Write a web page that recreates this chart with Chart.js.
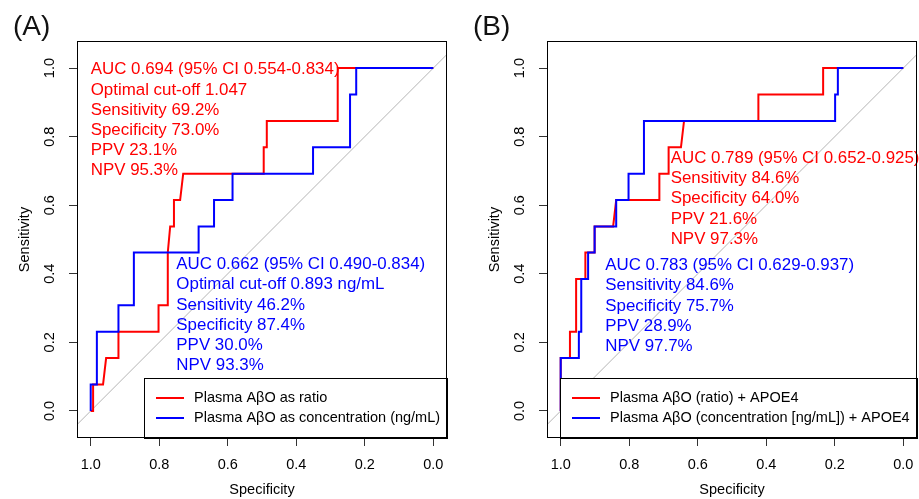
<!DOCTYPE html>
<html lang="en">
<head>
  <meta charset="UTF-8" />
  <title>ROC curves</title>
  <script src="https://cdn.jsdelivr.net/npm/chart.js@4.4.1/dist/chart.umd.min.js"></script>
  <style>
    body { margin: 0; background: #fff; overflow: hidden; }
    #wrap { position: relative; width: 919px; height: 499px; }
    canvas { position: absolute; top: 0; }
    #rocA { left: 0; }
    #rocB { left: 470px; }
  </style>
</head>
<body>
  <div id="wrap">
    <canvas id="rocA" width="460" height="499"></canvas>
    <canvas id="rocB" width="449" height="499"></canvas>
  </div>

  <script>
    // axis ticks (specificity axis runs 1 -> 0)
    const xTicks = [0.0, 0.2, 0.4, 0.6, 0.8, 1.0];
    const yTicks = [0.0, 0.2, 0.4, 0.6, 0.8, 1.0];

    // reference diagonal
    const diagSpec = [1.04, -0.04];
    const diagSens = [-0.04, 1.04];

    // (A) plasma AβO as ratio
    const ratioSpec = [1.0, 0.993, 0.993, 0.964, 0.955, 0.919, 0.919, 0.802, 0.802, 0.775, 0.775, 0.768, 0.757, 0.757, 0.739, 0.730, 0.495, 0.495, 0.486, 0.486, 0.279, 0.279, 0.0];
    const ratioSens = [0.0, 0.0, 0.077, 0.077, 0.154, 0.154, 0.231, 0.231, 0.308, 0.308, 0.462, 0.538, 0.538, 0.615, 0.615, 0.692, 0.692, 0.769, 0.769, 0.846, 0.846, 1.0, 1.0];

    // (A) plasma AβO as concentration
    const concSpec = [1.0, 1.0, 0.982, 0.982, 0.919, 0.919, 0.874, 0.874, 0.685, 0.685, 0.640, 0.640, 0.586, 0.586, 0.351, 0.351, 0.243, 0.243, 0.225, 0.225, 0.0];
    const concSens = [0.0, 0.077, 0.077, 0.231, 0.231, 0.308, 0.308, 0.462, 0.462, 0.538, 0.538, 0.615, 0.615, 0.692, 0.692, 0.769, 0.769, 0.923, 0.923, 1.0, 1.0];

    // (B) ratio + APOE4
    const ratioApoeSpec = [1.0, 1.0, 0.973, 0.973, 0.955, 0.955, 0.928, 0.928, 0.901, 0.901, 0.847, 0.838, 0.712, 0.712, 0.685, 0.685, 0.649, 0.640, 0.423, 0.423, 0.234, 0.234, 0.0];
    const ratioApoeSens = [0.0, 0.154, 0.154, 0.231, 0.231, 0.385, 0.385, 0.462, 0.462, 0.538, 0.538, 0.615, 0.615, 0.692, 0.692, 0.769, 0.769, 0.846, 0.846, 0.923, 0.923, 1.0, 1.0];

    // (B) concentration + APOE4
    const concApoeSpec = [1.0, 1.0, 0.947, 0.947, 0.940, 0.940, 0.920, 0.920, 0.901, 0.901, 0.838, 0.838, 0.802, 0.802, 0.757, 0.757, 0.199, 0.199, 0.191, 0.191, 0.0];
    const concApoeSens = [0.0, 0.154, 0.154, 0.231, 0.231, 0.385, 0.385, 0.462, 0.462, 0.538, 0.538, 0.615, 0.615, 0.692, 0.692, 0.846, 0.846, 0.923, 0.923, 1.0, 1.0];

    // annotation text
    const ratioNote = ['AUC 0.694 (95% CI 0.554-0.834)', 'Optimal cut-off 1.047', 'Sensitivity 69.2%', 'Specificity 73.0%', 'PPV 23.1%', 'NPV 95.3%'];
    const concNote = ['AUC 0.662 (95% CI 0.490-0.834)', 'Optimal cut-off 0.893 ng/mL', 'Sensitivity 46.2%', 'Specificity 87.4%', 'PPV 30.0%', 'NPV 93.3%'];
    const ratioApoeNote = ['AUC 0.789 (95% CI 0.652-0.925)', 'Sensitivity 84.6%', 'Specificity 64.0%', 'PPV 21.6%', 'NPV 97.3%'];
    const concApoeNote = ['AUC 0.783 (95% CI 0.629-0.937)', 'Sensitivity 84.6%', 'Specificity 75.7%', 'PPV 28.9%', 'NPV 97.7%'];

    const FONT = '"Liberation Sans", Arial, Helvetica, sans-serif';
    const RED = '#ff0000', BLUE = '#0000ff';

    function pts(xs, ys) {
      return xs.map((x, i) => ({ x, y: ys[i] }));
    }

    // text, legend box, frame and rotated y labels
    const rocExtras = {
      id: 'rocExtras',
      afterDatasetsDraw(chart, args, o) {
        const { ctx, chartArea: a, scales: { x, y } } = chart;
        ctx.save();

        ctx.font = '16.9px ' + FONT;
        ctx.textAlign = 'left';
        ctx.textBaseline = 'middle';
        o.notes.forEach(n => {
          ctx.fillStyle = n.color;
          const px = x.getPixelForValue(n.x), py = y.getPixelForValue(n.y);
          n.lines.forEach((t, i) => ctx.fillText(t, px, py + i * 20.2));
        });

        // legend in the bottom right corner
        ctx.font = '14.5px ' + FONT;
        const items = chart.data.datasets.filter(d => d.label);
        const tw = Math.max(...items.map(d => ctx.measureText(d.label).width));
        const w = Math.round(tw + 57), h = 60;
        const L = a.right - w, T = a.bottom - h;
        ctx.fillStyle = '#fff';
        ctx.fillRect(L, T, w, h);
        ctx.strokeStyle = '#000';
        ctx.lineWidth = 1;
        ctx.strokeRect(L + 0.5, T + 0.5, w, h);
        items.forEach((d, i) => {
          const cy = T + 20 + i * 20;
          ctx.strokeStyle = d.borderColor;
          ctx.lineWidth = 2;
          ctx.beginPath();
          ctx.moveTo(L + 12, cy);
          ctx.lineTo(L + 40, cy);
          ctx.stroke();
          ctx.fillStyle = '#000';
          ctx.fillText(d.label, L + 50, cy);
        });

        // plot frame
        ctx.strokeStyle = '#000';
        ctx.lineWidth = 1;
        ctx.strokeRect(a.left + 0.5, a.top + 0.5, a.width - 1, a.height - 1);

        // y tick labels, rotated like base R
        ctx.fillStyle = '#000';
        ctx.textAlign = 'center';
        yTicks.forEach(v => {
          ctx.save();
          ctx.translate(50, y.getPixelForValue(v));
          ctx.rotate(-Math.PI / 2);
          ctx.fillText(v.toFixed(1), 0, 0);
          ctx.restore();
        });

        // panel tag
        ctx.font = '28px ' + FONT;
        ctx.textAlign = 'left';
        ctx.fillStyle = '#111';
        ctx.fillText(o.tag, o.tagX, 27);
        ctx.restore();
      }
    };

    function makeRoc(id, cfg) {
      const base = { showLine: true, pointRadius: 0, borderWidth: 2, tension: 0, fill: false };
      const axisFont = { family: FONT, size: 14.5 };
      return new Chart(document.getElementById(id), {
        type: 'scatter',
        data: {
          datasets: [
            { label: cfg.redLabel, data: pts(cfg.redSpec, cfg.redSens), borderColor: RED, order: 1 },
            { label: cfg.blueLabel, data: pts(cfg.blueSpec, cfg.blueSens), borderColor: BLUE, order: 0 },
            { data: pts(diagSpec, diagSens), borderColor: '#b4b4b4', borderWidth: 1, order: 2 }
          ].map(d => Object.assign({}, base, d))
        },
        options: {
          responsive: false,
          animation: false,
          devicePixelRatio: 1,
          layout: { padding: { top: 41, right: cfg.padRight, left: 0, bottom: 0 } },
          plugins: {
            legend: { display: false },
            tooltip: { enabled: false },
            rocExtras: { notes: cfg.notes, tag: cfg.tag, tagX: cfg.tagX }
          },
          scales: {
            x: {
              type: 'linear',
              reverse: true,
              min: -0.04,
              max: 1.04,
              afterBuildTicks: s => { s.ticks = xTicks.map(v => ({ value: v })); },
              afterFit: s => { s.height = 61; },
              grid: { drawOnChartArea: false, drawTicks: true, tickLength: 8, color: '#333' },
              border: { display: false },
              ticks: { font: axisFont, color: '#000', padding: 10, maxRotation: 0, autoSkip: false, callback: v => v.toFixed(1) },
              title: { display: true, text: 'Specificity', font: axisFont, color: '#000', padding: 0 }
            },
            y: {
              type: 'linear',
              min: -0.079,
              max: 1.079,
              afterBuildTicks: s => { s.ticks = yTicks.map(v => ({ value: v })); },
              afterFit: s => { s.width = 77; },
              grid: { drawOnChartArea: false, drawTicks: true, tickLength: 8, color: '#333' },
              border: { display: false },
              ticks: { display: false },
              title: { display: true, text: 'Sensitivity', font: axisFont, color: '#000', padding: { top: 16, bottom: 0 } }
            }
          }
        },
        plugins: [rocExtras]
      });
    }

    makeRoc('rocA', {
      tag: '(A)', tagX: 13, padRight: 13,
      redLabel: 'Plasma AβO as ratio', redSpec: ratioSpec, redSens: ratioSens,
      blueLabel: 'Plasma AβO as concentration (ng/mL)', blueSpec: concSpec, blueSens: concSens,
      notes: [
        { x: 1.0, y: 0.995, color: RED, lines: ratioNote },
        { x: 0.750, y: 0.427, color: BLUE, lines: concNote }
      ]
    });

    makeRoc('rocB', {
      tag: '(B)', tagX: 3, padRight: 2,
      redLabel: 'Plasma AβO (ratio) + APOE4', redSpec: ratioApoeSpec, redSens: ratioApoeSens,
      blueLabel: 'Plasma AβO (concentration [ng/mL]) + APOE4', blueSpec: concApoeSpec, blueSens: concApoeSens,
      notes: [
        { x: 0.679, y: 0.737, color: RED, lines: ratioApoeNote },
        { x: 0.870, y: 0.424, color: BLUE, lines: concApoeNote }
      ]
    });
  </script>
</body>
</html>
